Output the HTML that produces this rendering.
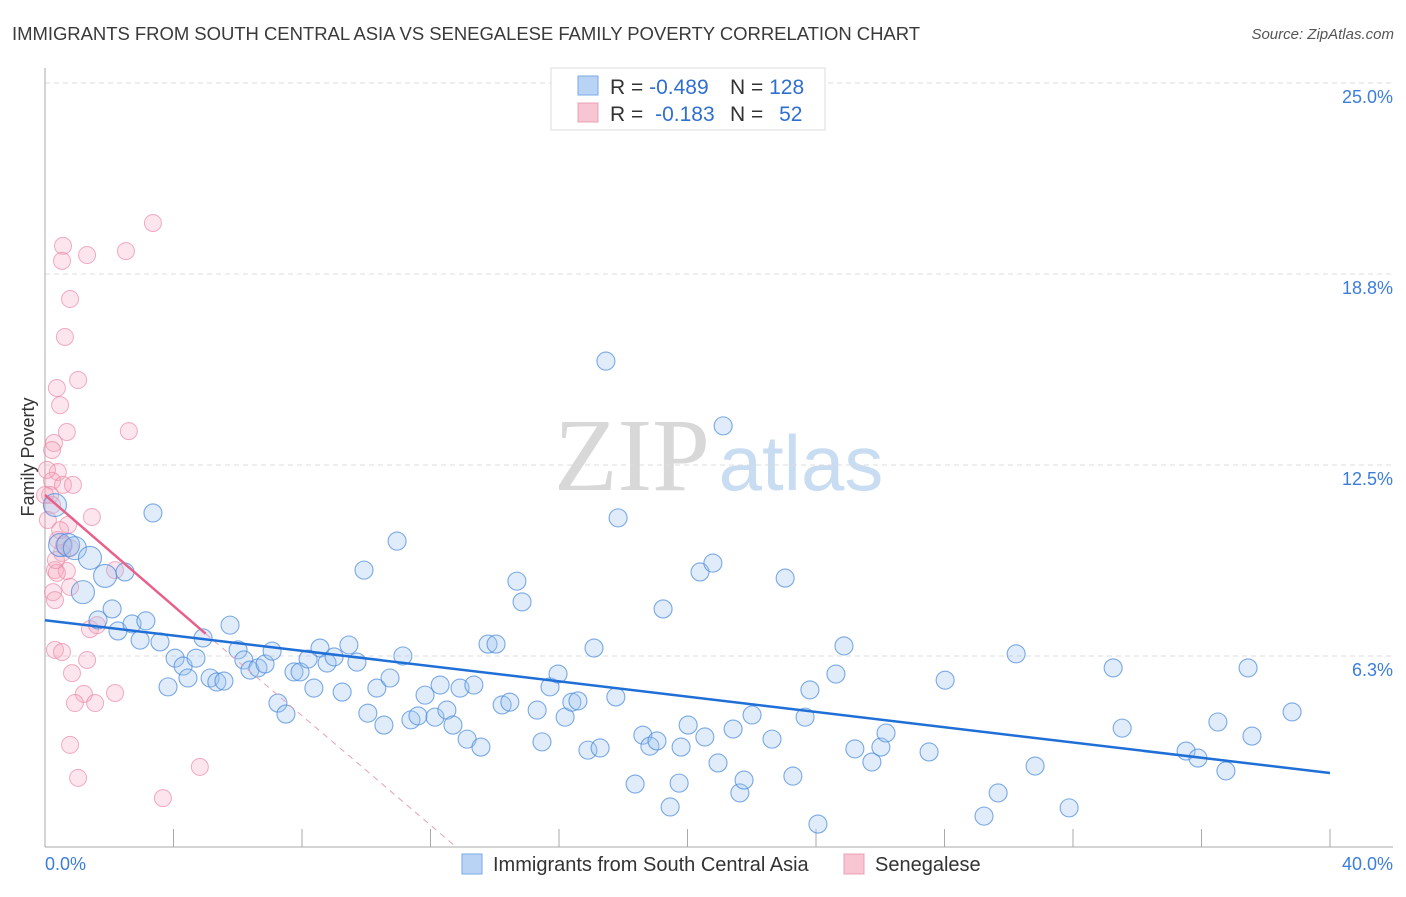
<!DOCTYPE html>
<html><head><meta charset="utf-8"><style>
body{margin:0;background:#fff;font-family:"Liberation Sans",sans-serif;}
svg text{font-family:"Liberation Sans",sans-serif;}
</style></head><body>
<svg id="chart" width="1406" height="892" xmlns="http://www.w3.org/2000/svg">
<text x="12" y="40" font-size="18.5" fill="#3a3a3a" textLength="908">IMMIGRANTS FROM SOUTH CENTRAL ASIA VS SENEGALESE FAMILY POVERTY CORRELATION CHART</text>
<text x="1394" y="39" font-size="15" fill="#555" text-anchor="end" font-style="italic">Source: ZipAtlas.com</text>
<g>
<text x="632" y="490" font-size="104" fill="#d8d8d8" text-anchor="middle" style="font-family:'Liberation Serif',serif">ZIP</text>
<text x="801" y="490" font-size="78" fill="#c8dcf2" text-anchor="middle">atlas</text>
</g>
<g id="grid"></g>
<g id="marks"></g>
<text x="34" y="457" font-size="18" fill="#333" text-anchor="middle" transform="rotate(-90 34 457)">Family Poverty</text>
<g>
<rect x="551" y="68" width="274" height="62" fill="#fff" stroke="#ddd"/>
<rect x="578" y="76" width="20" height="19" fill="#b9d3f5" stroke="#7aa8e6"/>
<text x="610" y="94" font-size="21" fill="#333">R = <tspan fill="#2f6fd0">-0.489</tspan></text>
<text x="730" y="94" font-size="21" fill="#333">N = <tspan fill="#2f6fd0">128</tspan></text>
<rect x="578" y="103" width="20" height="19" fill="#f8c5d3" stroke="#eea0b6"/>
<text x="610" y="121" font-size="21" fill="#333">R = <tspan fill="#2f6fd0" dx="6">-0.183</tspan></text>
<text x="730" y="121" font-size="21" fill="#333">N = <tspan fill="#2f6fd0" dx="10">52</tspan></text>
</g>
<g>
<rect x="462" y="854" width="20" height="20" fill="#b9d3f5" stroke="#7aa8e6"/>
<text x="493" y="871" font-size="20" fill="#333">Immigrants from South Central Asia</text>
<rect x="844" y="854" width="20" height="20" fill="#f8c5d3" stroke="#eea0b6"/>
<text x="875" y="871" font-size="20" fill="#333">Senegalese</text>
</g>
</svg>
<script>
const blueX=[0.31,0.47,0.72,0.93,1.40,1.18,1.87,2.09,2.49,1.65,2.27,2.71,3.14,2.96,3.36,3.58,4.05,3.83,4.30,4.45,4.70,4.92,5.14,5.35,5.57,5.76,6.01,6.19,6.38,6.63,6.85,7.07,7.25,7.50,7.75,7.94,8.19,8.37,8.56,8.78,9.00,9.25,9.46,9.71,9.93,10.05,10.33,10.55,10.74,10.96,11.14,11.39,11.61,11.83,12.14,12.30,12.51,12.70,12.92,13.14,13.35,13.57,13.79,14.04,14.23,14.47,14.69,14.85,15.32,15.47,15.72,15.97,16.19,16.40,16.59,16.90,17.28,17.09,17.46,17.77,17.84,18.37,18.61,18.83,19.05,19.24,19.46,19.74,19.80,20.02,20.39,20.54,20.79,20.95,21.11,21.42,21.63,21.76,22.01,22.63,23.04,23.28,23.66,23.81,24.06,24.62,24.87,25.21,25.74,26.02,26.18,27.52,28.02,29.23,29.67,30.23,30.82,31.88,33.25,33.53,35.52,35.89,36.51,36.76,37.45,37.57,38.82];
const blueY=[11.19,9.88,9.88,9.78,9.46,8.34,8.87,7.79,9.00,7.43,7.07,7.30,7.40,6.77,10.93,6.71,6.18,5.24,5.92,5.53,6.18,6.84,5.53,5.40,5.43,7.26,6.45,6.12,5.79,5.86,5.99,6.41,4.71,4.35,5.73,5.73,6.15,5.20,6.51,6.02,6.22,5.07,6.61,6.05,9.06,4.38,5.20,3.99,5.53,10.01,6.25,4.16,4.29,4.97,4.25,5.30,4.48,3.99,5.20,3.53,5.30,3.27,6.64,6.64,4.65,4.74,8.70,8.02,4.48,3.44,5.24,5.66,4.25,4.74,4.78,3.17,3.24,6.51,15.90,4.91,10.77,2.06,3.66,3.30,3.47,7.79,1.31,2.09,3.27,3.99,9.00,3.60,9.29,2.75,13.78,3.86,1.77,2.19,4.32,3.53,8.80,2.32,4.25,5.14,0.75,5.66,6.58,3.21,2.78,3.27,3.73,3.11,5.46,1.01,1.77,6.32,2.65,1.28,5.86,3.89,3.14,2.91,4.09,2.49,5.86,3.63,4.42];
const blueBig=[0,1,2,3,4,5,6];
const pinkX=[3.36,0.56,2.52,0.53,1.31,0.78,0.62,1.03,0.37,0.47,2.61,0.68,0.28,0.22,0.40,0.22,0.56,0.87,0.16,0.22,1.46,0.72,0.40,0.59,0.78,0.53,0.31,0.68,0.37,0.25,0.78,2.18,1.40,1.62,0.31,0.53,1.31,0.84,1.21,0.93,1.56,2.18,0.78,1.03,3.67,4.82,0.0,0.06,0.47,0.34,0.09,0.31];
const pinkY=[20.42,19.67,19.50,19.18,19.37,17.93,16.69,15.28,15.02,14.46,13.61,13.58,13.22,12.99,12.27,11.98,11.85,11.85,11.52,11.19,10.80,10.54,10.05,9.88,9.78,9.62,9.06,9.03,8.97,8.34,8.51,9.06,7.13,7.26,6.45,6.38,6.12,5.69,5.01,4.71,4.71,5.04,3.34,2.26,1.60,2.62,11.52,12.34,10.37,9.39,10.70,8.08];
const yTicks=[6.3,12.5,18.8,25.0];
const xTickLabels=["0.0%","40.0%"];
const blueTrend=[[0,7.42],[40,2.42]];
const pinkTrend=[[0,11.52],[5.0,6.98]];
const pinkDash=[[5.0,6.98],[12.8,0]];

const X0=45,X1=1330,Y0=847,Y25=83;
const sx=v=>X0+(X1-X0)*v/40;
const sy=v=>Y0-(Y0-Y25)*v/25;
const NS="http://www.w3.org/2000/svg";
function mk(tag,attrs,parent){const e=document.createElementNS(NS,tag);for(const k in attrs)e.setAttribute(k,attrs[k]);parent.appendChild(e);return e;}
const grid=document.getElementById('grid'),marks=document.getElementById('marks');
yTicks.forEach(t=>{
 const v=t===6.3?6.25:t===18.8?18.75:t;
 const g=mk('line',{x1:45,x2:1393,y1:sy(v),y2:sy(v),stroke:'#ddd','stroke-dasharray':'5,4'},grid);
 
 
 const tx=mk('text',{x:1393,y:sy(v)+20,'font-size':18,fill:'#3b7ddd','text-anchor':'end'},grid);
 tx.textContent=t.toFixed(1)+'%';
 
 
});
const ya=mk('line',{x1:45,x2:45,y1:68,y2:847,stroke:'#aaa'},grid);


const xa=mk('line',{x1:45,x2:1393,y1:847,y2:847,stroke:'#aaa'},grid);


for(let i=0;i<=10;i++){
 const tk=mk('line',{x1:sx(i*4),x2:sx(i*4),y1:829,y2:847,stroke:'#aaa'},grid);
 
 
}
[[0,45,'start'],[40,1393,'end']].forEach((d,i)=>{
 const tx=mk('text',{x:d[1],y:870,'font-size':18,fill:'#3b7ddd','text-anchor':d[2]},grid);
 tx.textContent=xTickLabels[i];
 
 
});
pinkX.forEach((x,i)=>{
 const c=mk('circle',{cx:sx(x),cy:sy(pinkY[i]),r:8.5,fill:'rgba(244,170,192,0.3)',stroke:'rgba(235,130,160,0.65)','stroke-width':1},marks);
 
 
});
blueX.forEach((x,i)=>{
 const big=blueBig.includes(i);
 const c=mk('circle',{cx:sx(x),cy:sy(blueY[i]),r:big?11.5:9,fill:'rgba(160,196,240,0.32)',stroke:'rgba(70,135,220,0.7)','stroke-width':1.1},marks);
 
 
});
const pd=mk('line',{x1:sx(pinkDash[0][0]),y1:sy(pinkDash[0][1]),x2:sx(pinkDash[1][0]),y2:sy(pinkDash[1][1]),stroke:'#e8a0b8','stroke-width':1,'stroke-dasharray':'6,5'},marks);


const pt=mk('line',{x1:sx(pinkTrend[0][0]),y1:sy(pinkTrend[0][1]),x2:sx(pinkTrend[1][0]),y2:sy(pinkTrend[1][1]),stroke:'#e8608a','stroke-width':2.5},marks);


const bt=mk('line',{x1:sx(blueTrend[0][0]),y1:sy(blueTrend[0][1]),x2:sx(blueTrend[1][0]),y2:sy(blueTrend[1][1]),stroke:'#1f6fd6','stroke-width':2.5},marks);


</script>
</body></html>
